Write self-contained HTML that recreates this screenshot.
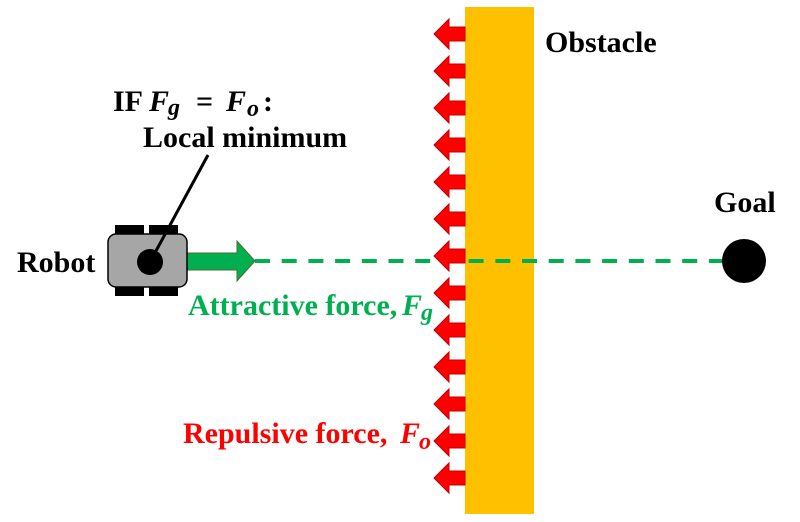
<!DOCTYPE html>
<html>
<head>
<meta charset="utf-8">
<style>
  html, body { margin:0; padding:0; background:#ffffff; }
  svg { display:block; }
  svg text { font-family: "Liberation Serif", "Times New Roman", "DejaVu Serif", serif; font-weight:bold; }
</style>
</head>
<body>
<svg width="800" height="522" viewBox="0 0 800 522" xmlns="http://www.w3.org/2000/svg" font-family="Liberation Serif, Times New Roman, serif">
  <rect x="0" y="0" width="800" height="522" fill="#ffffff"/>

  <!-- Obstacle -->
  <rect x="465" y="7" width="69" height="507" fill="#ffc000"/>

  <!-- Dashed attractive line -->
  <line x1="255" y1="261" x2="724" y2="261" stroke="#00b050" stroke-width="4" stroke-dasharray="15 11.7"/>

  <!-- Red repulsive arrows -->
  <g fill="#ff0000" stroke="#c00000" stroke-width="1" stroke-linejoin="miter">
    <polygon points="465,27 449,27 449,19 434,34 449,49 449,41 465,41"/>
    <polygon points="465,64 449,64 449,56 434,71 449,86 449,78 465,78"/>
    <polygon points="465,101 449,101 449,93 434,108 449,123 449,115 465,115"/>
    <polygon points="465,138 449,138 449,130 434,145 449,160 449,152 465,152"/>
    <polygon points="465,175 449,175 449,167 434,182 449,197 449,189 465,189"/>
    <polygon points="465,212 449,212 449,204 434,219 449,234 449,226 465,226"/>
    <polygon points="465,249 449,249 449,241 434,256 449,271 449,263 465,263"/>
    <polygon points="465,286 449,286 449,278 434,293 449,308 449,300 465,300"/>
    <polygon points="465,323 449,323 449,315 434,330 449,345 449,337 465,337"/>
    <polygon points="465,360 449,360 449,352 434,367 449,382 449,374 465,374"/>
    <polygon points="465,397 449,397 449,389 434,404 449,419 449,411 465,411"/>
    <polygon points="465,434 449,434 449,426 434,441 449,456 449,448 465,448"/>
    <polygon points="465,471 449,471 449,463 434,478 449,493 449,485 465,485"/>
  </g>

  <!-- Goal -->
  <circle cx="744" cy="261" r="22" fill="#000000"/>

  <!-- Green attractive arrow -->
  <polygon points="187,253 237,253 237,241 255,261 237,281 237,270 187,270" fill="#00b050" stroke="#4d6b2a" stroke-width="1"/>

  <!-- Robot -->
  <rect x="115" y="225" width="29" height="11" fill="#000"/>
  <rect x="149" y="225" width="29" height="11" fill="#000"/>
  <rect x="115" y="285" width="29" height="11" fill="#000"/>
  <rect x="149" y="285" width="29" height="11" fill="#000"/>
  <rect x="108" y="234" width="79" height="53" rx="8" ry="8" fill="#a6a6a6" stroke="#000" stroke-width="1.5"/>
  <line x1="150" y1="262" x2="208" y2="155" stroke="#000" stroke-width="3"/>
  <circle cx="150" cy="262" r="13" fill="#000"/>

  <!-- Labels -->
  <text x="545" y="52" font-size="30" font-weight="bold" font-family="Liberation Serif, serif" fill="#000">Obstacle</text>
  <text x="714" y="212" font-size="30" font-weight="bold" font-family="Liberation Serif, serif" fill="#000">Goal</text>
  <text x="17" y="272" font-size="30" font-weight="bold" font-family="Liberation Serif, serif" fill="#000">Robot</text>

  <text y="111" font-size="30" font-weight="bold" font-family="Liberation Serif, serif" fill="#000">
    <tspan x="113">IF</tspan>
    <tspan x="149" font-style="italic">F</tspan>
    <tspan x="168" y="115" font-size="24" font-style="italic">g</tspan>
    <tspan x="196" y="111">=</tspan>
    <tspan x="226" font-style="italic">F</tspan>
    <tspan x="247" y="116" font-size="24" font-style="italic">o</tspan>
    <tspan x="263" y="111">:</tspan>
  </text>
  <text x="143" y="147" font-size="30" font-weight="bold" font-family="Liberation Serif, serif" fill="#000">Local minimum</text>

  <text y="315" font-size="30" font-weight="bold" font-family="Liberation Serif, serif" fill="#00b050">
    <tspan x="188">Attractive force,</tspan>
    <tspan x="402" font-style="italic">F</tspan>
    <tspan x="421" y="320" font-size="24" font-style="italic">g</tspan>
  </text>

  <text y="443" font-size="30" font-weight="bold" font-family="Liberation Serif, serif" fill="#ff0000">
    <tspan x="183">Repulsive force,</tspan>
    <tspan x="400" font-style="italic">F</tspan>
    <tspan x="419" y="449" font-size="24" font-style="italic">o</tspan>
  </text>
</svg>
</body>
</html>
